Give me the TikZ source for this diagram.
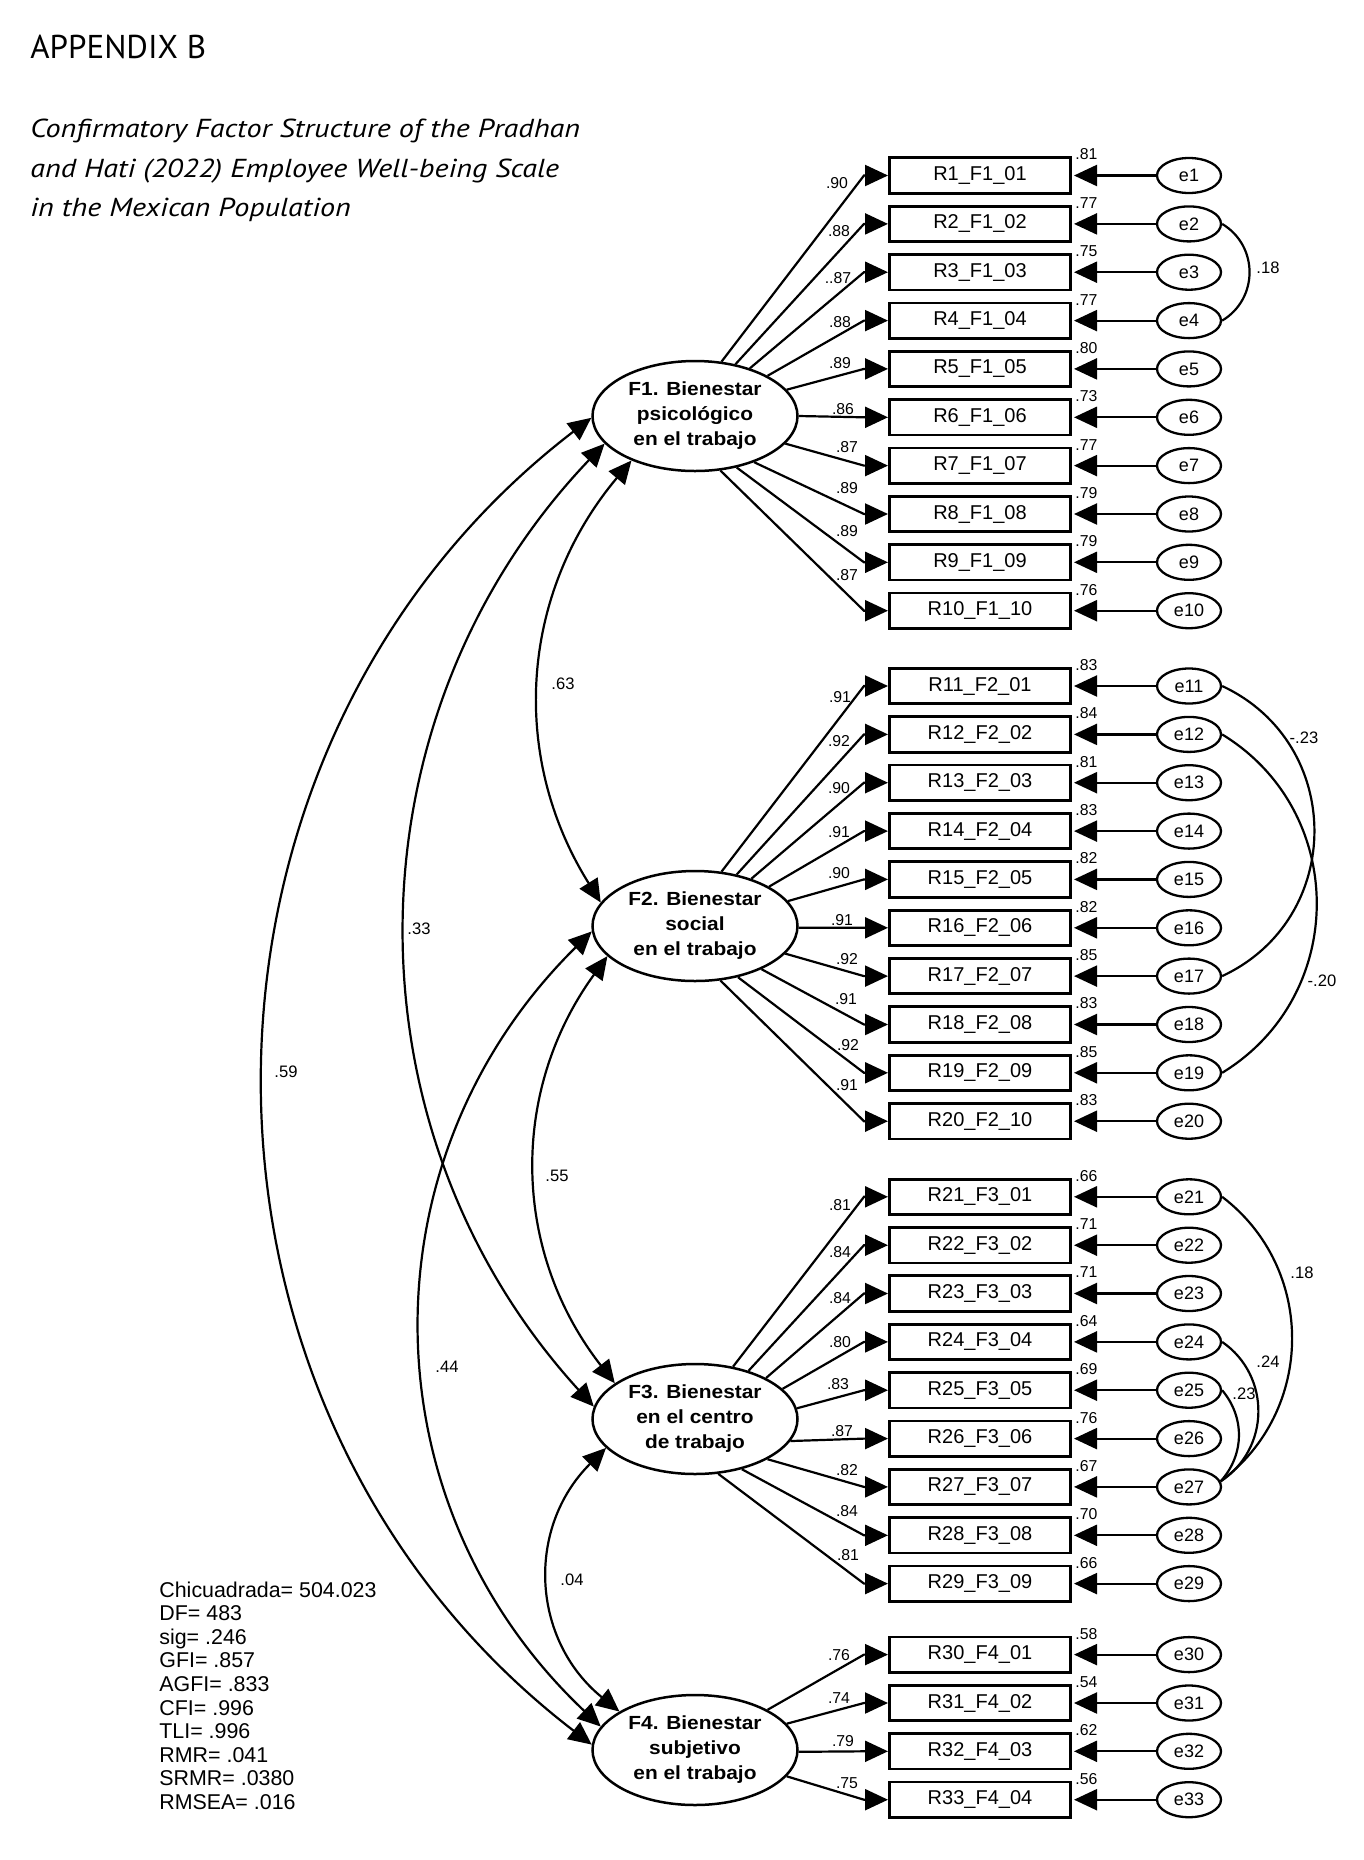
\documentclass[tikz,border=0pt]{standalone}
\usepackage{fontspec}
\setmainfont{Liberation Sans}
\newfontfamily\ptsans{PT Sans}
\newfontfamily\ttlit[FakeStretch=1.16]{PT Sans}
\newfontfamily\facfont[FakeStretch=1.1]{Liberation Sans}
\usetikzlibrary{arrows.meta,calc,shapes.geometric}
\begin{document}
\begin{tikzpicture}[x=0.5pt,y=0.5pt,
  >={Triangle[length=11.5pt,width=10.5pt]},
  item/.style={draw, line width=1.4pt, minimum width=90.6pt, minimum height=17.7pt, inner sep=0pt, font=\fontsize{10}{12}\selectfont},
  err/.style={ellipse, draw, line width=1.15pt, minimum width=32pt, minimum height=17.5pt, inner sep=0pt, font=\fontsize{9}{11}\selectfont},
  fac/.style={ellipse, draw, line width=1.25pt, minimum width=102.5pt, minimum height=55pt, inner sep=0pt, align=center, font=\facfont\bfseries\fontsize{9.5}{12.5}\selectfont},
  load/.style={line width=1.1pt, ->},
  cov/.style={line width=1.1pt, <->},
  ecov/.style={line width=1.1pt},
  lab/.style={font=\fontsize{7.9}{9}\selectfont, inner sep=0pt},
  clab/.style={font=\fontsize{8.3}{10}\selectfont, inner sep=0pt},
  stat/.style={font=\fontsize{10.7}{12}\selectfont, inner sep=0pt, anchor=base west},
  ttl/.style={inner sep=0pt, anchor=base west}
]
\fill[white] (0,0) rectangle (1364,-1860);
\useasboundingbox (0,0) rectangle (1364,-1860);

% title
\node[ttl, font=\ptsans\fontsize{16.5}{19}\selectfont] (t0) at (30,-58) {APPENDIX B};
\node[ttl, font=\ttlit\itshape\fontsize{13}{19.75}\selectfont] (t1) at (30,-137) {Confirmatory Factor Structure of the Pradhan};
\node[ttl, font=\ttlit\itshape\fontsize{13}{19.75}\selectfont] (t2) at (30,-177) {and Hati (2022) Employee Well-being Scale};
\node[ttl, font=\ttlit\itshape\fontsize{13}{19.75}\selectfont] (t3) at (30,-216) {in the Mexican Population};

% factors
\node[fac] (F1) at (695,-416) {F1. Bienestar\\psicológico\\en el trabajo};
\node[fac] (F2) at (695,-926) {F2. Bienestar\\social\\en el trabajo};
\node[fac] (F3) at (695,-1419) {F3. Bienestar\\en el centro\\de trabajo};
\node[fac] (F4) at (695,-1750) {F4. Bienestar\\subjetivo\\en el trabajo};

% items, errors, loadings
\foreach \i/\yy/\txt/\res/\fac/\ang/\ld/\dy/\lx in {
1/175.5/R1\_F1\_01/.81/F1/64/.90/8/837,
2/223.9/R2\_F1\_02/.77/F1/52/.88/7/839,
3/272.2/R3\_F1\_03/.75/F1/41/..87/6/838,
4/320.6/R4\_F1\_04/.77/F1/29/.88/1/840,
5/368.9/R5\_F1\_05/.80/F1/16/.89/-6/840,
6/417.3/R6\_F1\_06/.73/F1/0/.86/-8/843,
7/465.6/R7\_F1\_07/.77/F1/343/.87/-19/847,
8/514.0/R8\_F1\_08/.79/F1/322/.89/-26/847,
9/562.3/R9\_F1\_09/.79/F1/309/.89/-31/847,
10/610.7/R10\_F1\_10/.76/F1/295/.87/-36/847,
11/686.0/R11\_F2\_01/.83/F2/64/.91/11/840,
12/734.4/R12\_F2\_02/.84/F2/51/.92/7/839,
13/782.7/R13\_F2\_03/.81/F2/40/.90/5/839,
14/831.1/R14\_F2\_04/.83/F2/28/.91/1/839,
15/879.4/R15\_F2\_05/.82/F2/15/.90/-6/839,
16/927.8/R16\_F2\_06/.82/F2/359/.91/-8/842,
17/976.1/R17\_F2\_07/.85/F2/343/.92/-17/847,
18/1024.5/R18\_F2\_08/.83/F2/327/.91/-25/846,
19/1072.8/R19\_F2\_09/.85/F2/310/.92/-28/848,
20/1121.2/R20\_F2\_10/.83/F2/295/.91/-36/847,
21/1196.8/R21\_F3\_01/.66/F3/54/.81/8/840,
22/1245.2/R22\_F3\_02/.71/F3/42/.84/7/840,
23/1293.5/R23\_F3\_03/.71/F3/30/.84/5/840,
24/1341.9/R24\_F3\_04/.64/F3/19/.80/0/840,
25/1390.2/R25\_F3\_05/.69/F3/6/.83/-6/838,
26/1438.6/R26\_F3\_06/.76/F3/347/.87/-8/842,
27/1486.9/R27\_F3\_07/.67/F3/331/.82/-17/847,
28/1535.3/R28\_F3\_08/.70/F3/313/.84/-24/847,
29/1583.6/R29\_F3\_09/.66/F3/293/.81/-29/848,
30/1654.6/R30\_F4\_01/.58/F4/29/.76/0/839,
31/1703.0/R31\_F4\_02/.54/F4/16/.74/-5/839,
32/1751.3/R32\_F4\_03/.62/F4/359/.79/-10/843,
33/1799.7/R33\_F4\_04/.56/F4/344/.75/-17/847}
{
  \node[item] (R\i) at (980,-\yy) {\txt};
  \node[err] (e\i) at (1189,-\yy) {e\i};
  \draw[load, shorten >=1pt] (e\i) -- (R\i);
  \node[lab, anchor=west] (r\i) at (1075,{-(\yy-21)}) {\res};
  \draw[load] (\fac.\ang) -- ([xshift=-12pt]R\i.west) -- (R\i.west);
  \node[lab] (l\i) at (\lx,{-(\yy+\dy)}) {\ld};
}

% factor covariances
\draw[cov] (F1.215) to[bend right=36] (F2.166);
\draw[cov] (F1.197) to[bend right=43] (F3.173);
\draw[cov] (F1.181) to[bend right=52.5, looseness=1.06] (F4.177);
\draw[cov] (F2.199) to[bend right=37] (F3.156);
\draw[cov] (F2.183) to[bend right=46, looseness=1.04] (F4.166);
\draw[cov] (F3.198) to[bend right=48, looseness=1.1] (F4.153);
\node[clab] (c12) at (563,-684) {.63};
\node[clab] (c13) at (419,-929) {.33};
\node[clab] (c14) at (286,-1072) {.59};
\node[clab] (c23) at (557,-1176) {.55};
\node[clab] (c24) at (447,-1367) {.44};
\node[clab] (c34) at (572,-1580) {.04};

% error covariances
\draw[ecov] (e2.east) to[bend left=59, looseness=1.13] (e4.east);
\draw[ecov] (e11.east) to[bend left=65, looseness=1.2] (e17.east);
\draw[ecov] (e12.east) to[bend left=58.6, looseness=1.12] (e19.east);
\draw[ecov] (e21.east) to[bend left=53, looseness=1.06] (e27.10);
\draw[ecov] (e24.east) to[bend left=56, looseness=1.09] (e27.10);
\draw[ecov] (e25.east) to[bend left=41] (e27.10);
\node[clab] (d1) at (1268,-268) {.18};
\node[clab] (d2) at (1304,-738) {-.23};
\node[clab] (d3) at (1322,-981) {-.20};
\node[clab] (d4) at (1302,-1273) {.18};
\node[clab] (d5) at (1268,-1362) {.24};
\node[clab] (d6) at (1244,-1394) {.23};

% fit statistics
\foreach \t [count=\k from 0] in {Chicuadrada= 504.023, DF= 483, sig= .246, GFI= .857, AGFI= .833, CFI= .996, TLI= .996, RMR= .041, SRMR= .0380, RMSEA= .016}
  \node[stat] (s\k) at (159,{-(1597+23.6*\k)}) {\t};
\end{tikzpicture}
\end{document}
